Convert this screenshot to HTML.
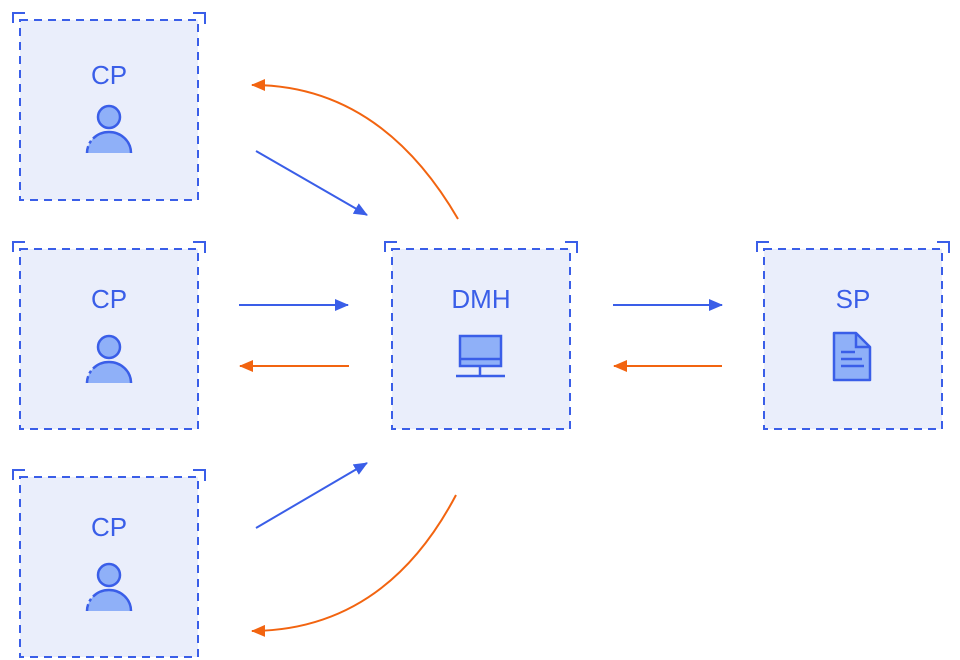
<!DOCTYPE html>
<html><head><meta charset="utf-8"><style>html,body{margin:0;padding:0;background:#fff}svg{display:block}</style></head>
<body>
<svg width="960" height="660" viewBox="0 0 960 660" xmlns="http://www.w3.org/2000/svg" font-family="Liberation Sans, sans-serif">
<defs>
<marker id="ab" markerWidth="14" markerHeight="12" refX="13" refY="6" orient="auto" markerUnits="userSpaceOnUse"><path d="M0,0 L14,6 L0,12 z" fill="#3a5ee8"/></marker>
<marker id="ao" markerWidth="14" markerHeight="12" refX="13" refY="6" orient="auto" markerUnits="userSpaceOnUse"><path d="M0,0 L14,6 L0,12 z" fill="#f26410"/></marker>
<g id="box">
<rect x="0" y="0" width="178" height="180" fill="#eaeefb" stroke="#3a5ee8" stroke-width="2" stroke-dasharray="8,6"/>
<path d="M-7,3 V-7 H5" fill="none" stroke="#3a5ee8" stroke-width="2"/>
<path d="M173,-7 H185 V4" fill="none" stroke="#3a5ee8" stroke-width="2"/>
</g>
<g id="person">
<path d="M-22,19 A22,21 0 0 1 22,19 Z" fill="#8fb0f8"/>
<path d="M-22,19 A22,21 0 0 1 22,19" fill="none" stroke="#3a5ee8" stroke-width="2.5" stroke-dasharray="7,3,3,3,60"/>
<circle cx="0" cy="-17" r="11" fill="#8fb0f8" stroke="#3a5ee8" stroke-width="2.5"/>
</g>
</defs>
<g fill="#3a5ee8" font-size="26" text-anchor="middle">
<use href="#box" x="20" y="20"/>
<text x="109" y="84">CP</text>
<use href="#person" x="109" y="134"/>
<use href="#box" x="20" y="249"/>
<text x="109" y="308">CP</text>
<use href="#person" x="109" y="364"/>
<use href="#box" x="20" y="477"/>
<text x="109" y="536">CP</text>
<use href="#person" x="109" y="592"/>
<use href="#box" x="392" y="249"/>
<text x="481" y="308">DMH</text>
<use href="#box" x="764" y="249"/>
<text x="853" y="308">SP</text>
</g>
<rect x="460" y="336" width="41" height="30" fill="#8fb0f8" stroke="#3a5ee8" stroke-width="2.5"/>
<line x1="460" y1="359" x2="501" y2="359" stroke="#3a5ee8" stroke-width="2.5"/>
<line x1="480" y1="366" x2="480" y2="375" stroke="#3a5ee8" stroke-width="2.5"/>
<line x1="456" y1="376" x2="505" y2="376" stroke="#3a5ee8" stroke-width="2.5"/>
<path d="M834,333 H856 L870,347 V380 H834 Z" fill="#8fb0f8" stroke="#3a5ee8" stroke-width="2.5" stroke-linejoin="round"/>
<path d="M856,333 V347 H870" fill="none" stroke="#3a5ee8" stroke-width="2.5"/>
<line x1="841" y1="352" x2="855" y2="352" stroke="#3a5ee8" stroke-width="2.5"/>
<line x1="841" y1="359" x2="862" y2="359" stroke="#3a5ee8" stroke-width="2.5"/>
<line x1="841" y1="366" x2="864" y2="366" stroke="#3a5ee8" stroke-width="2.5"/>
<g stroke-width="2" fill="none">
<line x1="256" y1="151" x2="367" y2="215" stroke="#3a5ee8" marker-end="url(#ab)"/>
<line x1="239" y1="305" x2="348" y2="305" stroke="#3a5ee8" marker-end="url(#ab)"/>
<line x1="256" y1="528" x2="367" y2="463" stroke="#3a5ee8" marker-end="url(#ab)"/>
<line x1="613" y1="305" x2="722" y2="305" stroke="#3a5ee8" marker-end="url(#ab)"/>
<line x1="349" y1="366" x2="240" y2="366" stroke="#f26410" marker-end="url(#ao)"/>
<line x1="722" y1="366" x2="614" y2="366" stroke="#f26410" marker-end="url(#ao)"/>
<path d="M458,219 Q380,85 252,85" stroke="#f26410" marker-end="url(#ao)"/>
<path d="M456,495 Q385,630 252,631" stroke="#f26410" marker-end="url(#ao)"/>
</g>
</svg>
</body></html>
